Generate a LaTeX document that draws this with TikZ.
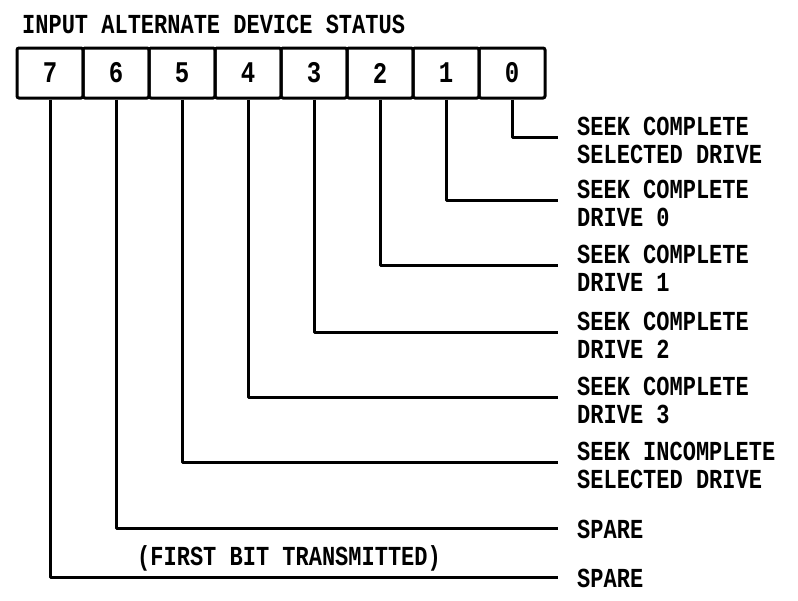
\documentclass[tikz,border=0pt]{standalone}
\usepackage{fontspec}
\setmonofont{Liberation Mono}[FakeStretch=0.8]
\usepackage{tikz}
\tikzset{
  bitcell/.style={draw=black, line width=3pt, rounded corners=2pt, minimum width=66pt,
    minimum height=50pt, inner sep=0pt, font=\fontsize{30}{32}\ttfamily\bfseries},
  lead/.style={line width=3pt, line join=round},
  lbl/.style={align=left, inner sep=0pt, font=\fontsize{27.5}{28}\ttfamily\bfseries},
}

\begin{document}
\begin{tikzpicture}[x=1pt, y=-1pt]
\useasboundingbox[fill=white] (0,0) rectangle (798,600);
\node[lbl, anchor=base west] (title) at (22,33) {INPUT ALTERNATE DEVICE STATUS};
% register cells, bit 0 on the right
\foreach \b in {0,...,7} {\node[bitcell] (c\b) at ({512-66*\b},73) {\b};}
% two-line labels
\foreach \b/\y/\txt in {0/137/{SEEK COMPLETE\\SELECTED DRIVE}, 1/200/{SEEK COMPLETE\\DRIVE 0},
    2/265/{SEEK COMPLETE\\DRIVE 1}, 3/332/{SEEK COMPLETE\\DRIVE 2}, 4/397/{SEEK COMPLETE\\DRIVE 3},
    5/462/{SEEK INCOMPLETE\\SELECTED DRIVE}} {
  \coordinate (e\b) at (558,\y);
  \node[lbl, anchor=north west] (l\b) at (577,\y-20.5) {\txt};
  \draw[lead] (c\b.south) |- (e\b);
}
% spare bits
\foreach \b/\y in {6/528, 7/577} {
  \coordinate (e\b) at (558,\y);
  \node[lbl, anchor=west] (l\b) at (577,\y+1) {SPARE};
  \draw[lead] (c\b.south) |- (e\b);
}
\node[lbl, anchor=base west] (first) at (137,565) {(FIRST BIT TRANSMITTED)};
\end{tikzpicture}
\end{document}
